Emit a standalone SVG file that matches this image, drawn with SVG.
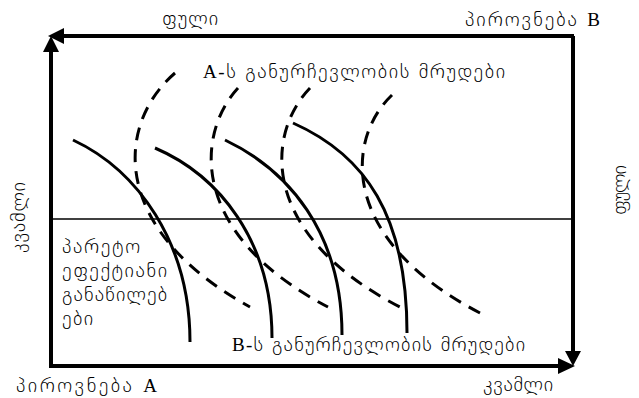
<svg xmlns="http://www.w3.org/2000/svg" width="639" height="398" viewBox="0 0 639 398">
<style>
.t{font-family:"DejaVu Sans",sans-serif;font-weight:200;font-size:20px;fill:#000}
.lat{font-family:"Liberation Serif",serif;font-weight:400;font-size:19px}
.frame{stroke:#000;stroke-width:4;fill:none}
.sol{stroke:#000;stroke-width:3;fill:none}
.dash{stroke:#000;stroke-width:3;fill:none;stroke-dasharray:13 9}
</style>
<rect width="639" height="398" fill="#fff"/>
<g id="connectors">
<line class="frame" x1="51" y1="366" x2="51" y2="48"/>
<polygon points="51,36 43,52 59,52"/>
<line class="frame" x1="574" y1="36" x2="60" y2="36"/>
<polygon points="48,36 64,28 64,44"/>
<line class="frame" x1="573" y1="36" x2="573" y2="354"/>
<polygon points="573,366 565,351 581,351"/>
<line class="frame" x1="49" y1="366" x2="562" y2="366"/>
<polygon points="575,366 558,358 558,374"/>
<line x1="51" y1="219" x2="573" y2="219" stroke="#000" stroke-width="1.5"/>
</g>
<g id="curvesB">
<path class="sol" d="M73,140 C137,170 190,242 190,342"/>
<path class="sol" d="M155,148 C218,175 272,240 272,338"/>
<path class="sol" d="M225,140 C288,170 342,232 342,335"/>
<path class="sol" d="M293,123 C365,155 407,215 407,333"/>
</g>
<g id="curvesA">
<path class="dash" d="M175,73 C115,125 110,230 250,307"/>
<path class="dash" d="M238,88 C195,135 190,235 328,307"/>
<path class="dash" d="M310,88 C265,135 260,235 400,307"/>
<path class="dash" d="M392,95 C345,140 340,240 480,313"/>
</g>
<g id="labels">
<text class="t" x="162" y="25" textLength="56" lengthAdjust="spacing">ფული</text>
<text class="t" x="465" y="26" textLength="135" lengthAdjust="spacing">პიროვნება <tspan class="lat">B</tspan></text>
<text class="t" x="203" y="78" textLength="302" lengthAdjust="spacing"><tspan class="lat">A-</tspan>ს განურჩევლობის მრუდები</text>
<text class="t" x="232" y="351" textLength="293" lengthAdjust="spacing"><tspan class="lat">B-</tspan>ს განურჩევლობის მრუდები</text>
<text class="t" x="16" y="392" textLength="141" lengthAdjust="spacing">პიროვნება <tspan class="lat">A</tspan></text>
<text class="t" x="483" y="391" textLength="70" lengthAdjust="spacing">კვამლი</text>
<text class="t" transform="translate(25,253) rotate(-90)" textLength="71" lengthAdjust="spacing">კვამლი</text>
<text class="t" transform="translate(626,215) rotate(-90)" textLength="50" lengthAdjust="spacing">ფული</text>
<text class="t" x="62" y="253" textLength="78" lengthAdjust="spacing">პარეტო</text>
<text class="t" x="62" y="277" textLength="105" lengthAdjust="spacing">ეფექტიანი</text>
<text class="t" x="62" y="301" textLength="105" lengthAdjust="spacing">განაწილებ</text>
<text class="t" x="62" y="325" textLength="31" lengthAdjust="spacing">ები</text>
</g>
</svg>
